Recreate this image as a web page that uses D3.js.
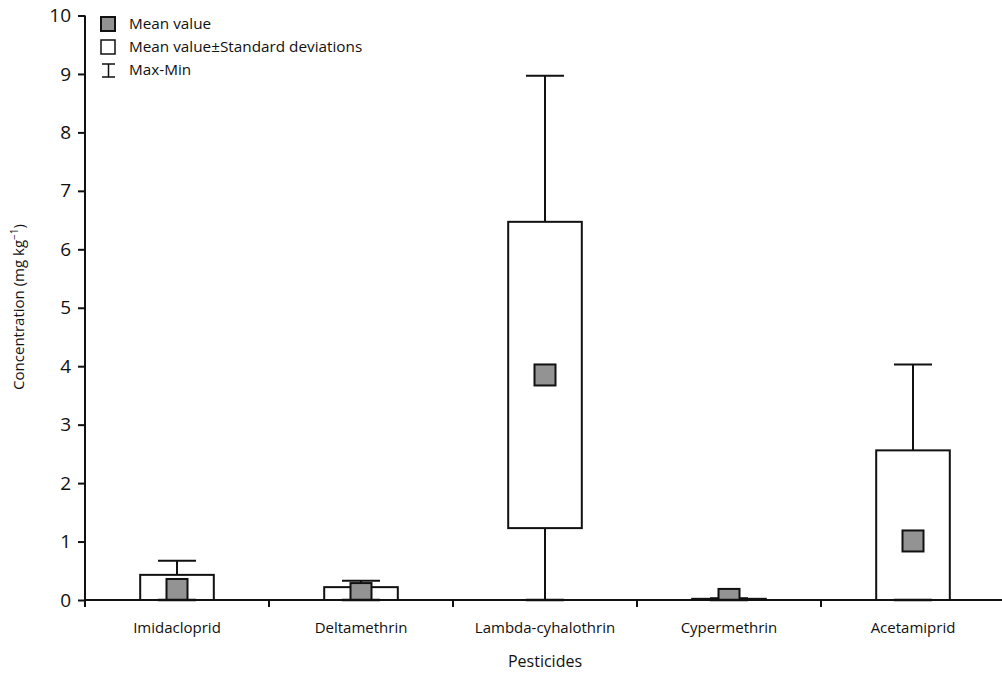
<!DOCTYPE html>
<html>
<head>
<meta charset="utf-8">
<script src="https://cdn.jsdelivr.net/npm/d3@7"></script>
<style>
  body { margin: 0; background: #fff; }
  svg text { font-family: "Open Sans", "Noto Sans", sans-serif; fill: #111; }
</style>
</head>
<body>
<svg id="svg" width="1002" height="673"></svg>
<script>
// data
const pesticides = ["Imidacloprid", "Deltamethrin", "Lambda-cyhalothrin", "Cypermethrin", "Acetamiprid"];
const meanValues = [0.18, 0.11, 3.85, 0.01, 1.01];
const sdValues   = [0.25, 0.11, 2.62, 0.01, 1.55];
const maxValues  = [0.67, 0.33, 8.97, 0.03, 4.03];
const minValues  = [0, 0, 0, 0, 0];
const yTicks = [0, 1, 2, 3, 4, 5, 6, 7, 8, 9, 10];
const legendLabels = ["Mean value", "Mean value\u00B1Standard deviations", "Max-Min"];

const svg = d3.select("#svg");
const ink = "#111";

const x = d3.scaleBand().domain(pesticides).range([85, 1005]).padding(0);
const y = d3.scaleLinear().domain([0, 10]).range([600, 15.5]);

const rows = pesticides.map((p, i) => ({
  name: p,
  mean: meanValues[i],
  lo: Math.max(0, meanValues[i] - sdValues[i]),
  hi: meanValues[i] + sdValues[i],
  max: maxValues[i],
  min: minValues[i]
}));

const boxW = x.bandwidth() * 0.4;
const capW = 38;
const sq = 21;
const cx = d => x(d.name) + x.bandwidth() / 2;

svg.append("clipPath").attr("id", "plot")
   .append("rect").attr("x", 85).attr("y", 0).attr("width", 920).attr("height", 600);

const g = svg.append("g").attr("clip-path", "url(#plot)");

// whiskers
g.selectAll(".wup").data(rows).join("line")
  .attr("x1", cx).attr("x2", cx)
  .attr("y1", d => y(d.hi)).attr("y2", d => y(d.max))
  .attr("stroke", ink).attr("stroke-width", 2);
g.selectAll(".wdn").data(rows).join("line")
  .attr("x1", cx).attr("x2", cx)
  .attr("y1", d => y(d.lo)).attr("y2", d => y(d.min))
  .attr("stroke", ink).attr("stroke-width", 2);
g.selectAll(".capT").data(rows).join("line")
  .attr("x1", d => cx(d) - capW / 2).attr("x2", d => cx(d) + capW / 2)
  .attr("y1", d => y(d.max)).attr("y2", d => y(d.max))
  .attr("stroke", ink).attr("stroke-width", 2);

// mean +- sd boxes
g.selectAll(".box").data(rows).join("rect")
  .attr("x", d => cx(d) - boxW / 2).attr("width", boxW)
  .attr("y", d => y(d.hi)).attr("height", d => y(d.lo) - y(d.hi))
  .attr("fill", "#fff").attr("stroke", ink).attr("stroke-width", 2);

// mean squares
g.selectAll(".mean").data(rows).join("rect")
  .attr("x", d => cx(d) - sq / 2).attr("y", d => y(d.mean) - sq / 2)
  .attr("width", sq).attr("height", sq)
  .attr("fill", "#939393").attr("stroke", ink).attr("stroke-width", 2);

// bottom caps (at min, overlap the axis)
svg.selectAll(".capB").data(rows).join("line")
  .attr("x1", d => cx(d) - capW / 2).attr("x2", d => cx(d) + capW / 2)
  .attr("y1", d => y(d.min)).attr("y2", d => y(d.min))
  .attr("stroke", ink).attr("stroke-width", 2.5);

// axes
const yAxis = svg.append("g").attr("transform", "translate(85,0)")
  .call(d3.axisLeft(y).tickValues(yTicks).tickSize(7).tickPadding(7).tickFormat(d3.format("d")));
yAxis.select(".domain").attr("d", "M0," + y(10) + "V607").attr("stroke", ink).attr("stroke-width", 2);
yAxis.selectAll(".tick line").attr("stroke", ink).attr("stroke-width", 2);
yAxis.selectAll(".tick text").attr("font-size", 19).attr("font-family", "Open Sans").attr("fill", ink);

const xAxis = svg.append("g").attr("transform", "translate(0,600)");
xAxis.append("line").attr("x1", 85).attr("x2", 1005).attr("y1", 0).attr("y2", 0)
  .attr("stroke", ink).attr("stroke-width", 2);
xAxis.selectAll(".xt").data(pesticides.slice(1)).join("line")
  .attr("x1", d => x(d)).attr("x2", d => x(d)).attr("y1", 0).attr("y2", 7)
  .attr("stroke", ink).attr("stroke-width", 2);
xAxis.selectAll(".xl").data(pesticides).join("text")
  .attr("x", d => x(d) + x.bandwidth() / 2).attr("y", 33)
  .attr("text-anchor", "middle").attr("font-size", 15)
  .text(d => d);

svg.append("text").attr("x", 545).attr("y", 667).attr("text-anchor", "middle")
  .attr("font-size", 16).text("Pesticides");

const yt = svg.append("text").attr("transform", "translate(24,307) rotate(-90)")
  .attr("text-anchor", "middle").attr("font-size", 15);
yt.append("tspan").text("Concentration (mg kg");
yt.append("tspan").attr("font-size", 10).attr("dy", -6).text("\u22121");
yt.append("tspan").attr("dy", 6).text(")");

// legend
const leg = svg.append("g");
const ly = [24, 47, 70];
leg.append("rect").attr("x", 101).attr("y", ly[0] - 7).attr("width", 14).attr("height", 14)
  .attr("fill", "#939393").attr("stroke", ink).attr("stroke-width", 2);
leg.append("rect").attr("x", 101).attr("y", ly[1] - 7).attr("width", 14).attr("height", 14)
  .attr("fill", "#fff").attr("stroke", ink).attr("stroke-width", 1.5);
leg.append("path")
  .attr("d", `M102,${ly[2] - 6}H115M108.5,${ly[2] - 6}V${ly[2] + 7}M102,${ly[2] + 7}H115`)
  .attr("stroke", ink).attr("stroke-width", 1.5).attr("fill", "none");
leg.selectAll(".lt").data(legendLabels).join("text")
  .attr("x", 129).attr("y", (d, i) => ly[i]).attr("dy", "0.35em")
  .attr("font-size", 15.3).text(d => d);
</script>
</body>
</html>
